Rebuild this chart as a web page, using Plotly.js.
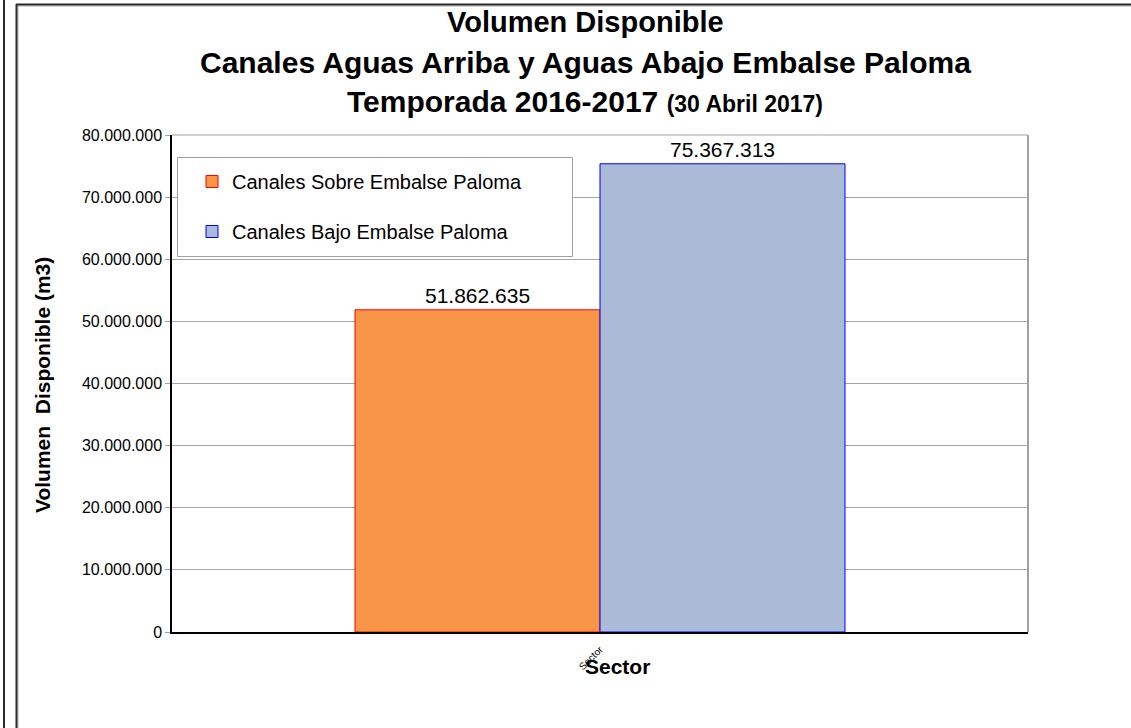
<!DOCTYPE html>
<html>
<head>
<meta charset="utf-8">
<script src="https://cdn.plot.ly/plotly-3.0.1.min.js"></script>
<style>html,body{margin:0;padding:0;background:#fff;}#chart{width:1131px;height:728px;}</style>
</head>
<body>
<div id="chart"></div>
<script>
// ---- data ----
var categories = ['Sector'];
var seriesNames = ['Canales Sobre Embalse Paloma', 'Canales Bajo Embalse Paloma'];
var sobreValues = [51862635];
var bajoValues = [75367313];
var yTickValues = [0, 10000000, 20000000, 30000000, 40000000, 50000000, 60000000, 70000000, 80000000];

// ---- layout geometry (pixels) ----
var W = 1131, H = 728;
var L = 172, R = 1028, T = 135, B = 632;
function px(x) { return (x - L) / (R - L); }
function py(y) { return (B - y) / (B - T); }

var FONT = 'Arial, "Liberation Sans", sans-serif';

var traces = [
  {
    type: 'bar', name: seriesNames[0], x: categories, y: sobreValues,
    marker: {color: '#F79646', line: {color: '#FF0000', width: 1}},
    texttemplate: '%{y:,d}', textposition: 'outside', cliponaxis: false,
    textfont: {family: FONT, size: 21, color: '#000'},
    legendgroup: 'a', hoverinfo: 'y'
  },
  {
    type: 'bar', name: seriesNames[1], x: categories, y: bajoValues,
    marker: {color: '#AABAD7', line: {color: '#0000FF', width: 1}},
    texttemplate: '%{y:,d}', textposition: 'outside', cliponaxis: false,
    textfont: {family: FONT, size: 21, color: '#000'},
    legendgroup: 'b', hoverinfo: 'y'
  }
];

var shapes = [
  // outer left frame line
  {type: 'line', xref: 'paper', yref: 'paper', x0: px(4), x1: px(4), y0: py(-5), y1: py(740), line: {color: '#2b2b2b', width: 2}},
  // inner frame shadow
  {type: 'line', xref: 'paper', yref: 'paper', x0: px(18), x1: px(18), y0: py(6), y1: py(740), line: {color: '#b0b0b0', width: 1}},
  {type: 'line', xref: 'paper', yref: 'paper', x0: px(18), x1: px(1140), y0: py(6), y1: py(6), line: {color: '#b0b0b0', width: 1}},
  // inner frame
  {type: 'line', xref: 'paper', yref: 'paper', x0: px(16.5), x1: px(16.5), y0: py(4), y1: py(740), line: {color: '#2b2b2b', width: 2}},
  {type: 'line', xref: 'paper', yref: 'paper', x0: px(16), x1: px(1140), y0: py(4.5), y1: py(4.5), line: {color: '#2b2b2b', width: 2}},
  // plot area border (top & right gray)
  {type: 'line', xref: 'paper', yref: 'paper', x0: 0, x1: 1, y0: 1, y1: 1, line: {color: '#a0a0a0', width: 1}},
  {type: 'line', xref: 'paper', yref: 'paper', x0: 1, x1: 1, y0: 0, y1: 1, line: {color: '#a0a0a0', width: 2}},
  // legend box
  {type: 'rect', xref: 'paper', yref: 'paper', layer: 'above', x0: px(177.5), x1: px(572.5), y0: py(256.5), y1: py(157.5),
   fillcolor: '#ffffff', line: {color: '#a0a0a0', width: 1}}
];

var annotations = [
  {xref: 'paper', yref: 'paper', x: px(585), y: py(22), text: '<b>Volumen Disponible</b>', showarrow: false,
   font: {family: FONT, size: 29, color: '#000'}, xanchor: 'center', yanchor: 'middle'},
  {xref: 'paper', yref: 'paper', x: px(585), y: py(63), text: '<b>Canales Aguas Arriba y Aguas Abajo Embalse Paloma</b>', showarrow: false,
   font: {family: FONT, size: 30, color: '#000'}, xanchor: 'center', yanchor: 'middle'},
  {xref: 'paper', yref: 'paper', x: px(585), y: py(101), text: '<b>Temporada 2016-2017 <span style="font-size:23px">(30 Abril 2017)</span></b>', showarrow: false,
   font: {family: FONT, size: 30, color: '#000'}, xanchor: 'center', yanchor: 'middle'},
  // axis titles
  {xref: 'paper', yref: 'paper', x: px(617), y: py(666), text: '<b>Sector</b>', showarrow: false,
   font: {family: FONT, size: 21, color: '#000'}, xanchor: 'center', yanchor: 'middle'},
  {xref: 'paper', yref: 'paper', x: px(42), y: py(385), text: '<b>Volumen  Disponible (m3)</b>', showarrow: false, textangle: -90,
   font: {family: FONT, size: 21, color: '#000'}, xanchor: 'center', yanchor: 'middle'}
];

var layout = {
  width: W, height: H,
  margin: {l: L, r: W - R, t: T, b: H - B, pad: 0},
  paper_bgcolor: '#ffffff', plot_bgcolor: '#ffffff',
  separators: ',.',
  font: {family: FONT, color: '#000'},
  barmode: 'group', bargap: 0.4276, bargroupgap: 0,
  showlegend: true,
  legend: {
    x: px(192), y: py(162), xanchor: 'left', yanchor: 'top',
    bgcolor: 'rgba(0,0,0,0)', borderwidth: 0,
    font: {family: FONT, size: 20, color: '#000'},
    traceorder: 'grouped', tracegroupgap: 21,
    itemclick: false, itemdoubleclick: false
  },
  xaxis: {
    type: 'category', range: [-0.5, 0.5], fixedrange: true,
    showline: true, linecolor: '#000', linewidth: 1.5,
    showgrid: false, ticks: '', tickangle: -45, ticklabelstandoff: 6,
    tickfont: {family: FONT, size: 10, color: '#000'}
  },
  yaxis: {
    range: [0, 80000000], fixedrange: true,
    tickvals: yTickValues, tickformat: ',d',
    showline: true, linecolor: '#000', linewidth: 1.5,
    showgrid: true, gridcolor: '#a6a6a6', gridwidth: 1,
    ticks: 'outside', ticklen: 5, tickcolor: '#a0a0a0', tickwidth: 1,
    tickfont: {family: FONT, size: 16, color: '#000'},
    zeroline: false
  },
  shapes: shapes,
  annotations: annotations
};

Plotly.newPlot('chart', traces, layout, {displayModeBar: false, staticPlot: false, responsive: false});
</script>
</body>
</html>
